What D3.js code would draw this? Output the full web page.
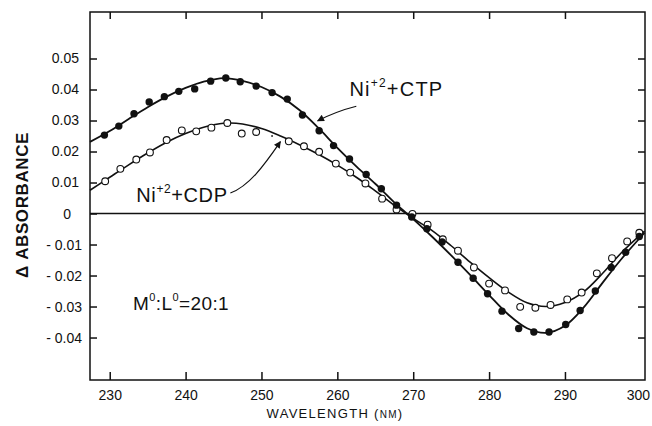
<!DOCTYPE html>
<html>
<head>
<meta charset="utf-8">
<script src="https://cdn.jsdelivr.net/npm/d3@7"></script>
<style>
  body { margin: 0; background: #fff; }
  text { font-family: "Liberation Sans", Arial, sans-serif; fill: #111; }
</style>
</head>
<body>
<div id="chart"></div>
<script>
// measured points, Ni+2 + CTP (filled circles)
const ctpWavelength = [229.3, 231.2, 233.2, 235.2, 237.2, 239.1, 241.2, 243.3, 245.3, 247.2, 249.3, 251.4, 253.4, 255.4, 257.6, 259.5, 261.6, 263.8, 265.8, 267.8, 269.8, 271.8, 273.8, 275.9, 277.9, 279.8, 281.7, 283.9, 285.9, 287.9, 290.1, 292.0, 294.0, 296.1, 298.0, 299.8];
const ctpAbs = [0.0253, 0.0282, 0.0322, 0.0360, 0.0377, 0.0394, 0.0402, 0.0427, 0.0437, 0.0425, 0.0411, 0.0390, 0.0369, 0.0318, 0.0267, 0.0219, 0.0176, 0.0126, 0.0080, 0.0027, -0.0011, -0.0049, -0.0092, -0.0157, -0.0209, -0.0259, -0.0315, -0.0371, -0.0382, -0.0382, -0.0358, -0.0313, -0.0250, -0.0174, -0.0125, -0.0074];

// measured points, Ni+2 + CDP (open circles)
const cdpWavelength = [229.4, 231.4, 233.5, 235.3, 237.5, 239.5, 241.4, 243.4, 245.5, 247.4, 249.3, 253.6, 255.6, 257.6, 259.8, 261.7, 263.7, 265.9, 267.8, 269.9, 271.9, 273.9, 275.9, 278.0, 280.0, 282.1, 284.1, 286.1, 288.1, 290.3, 292.2, 294.2, 296.2, 298.2, 299.8];
const cdpAbs = [0.0104, 0.0144, 0.0174, 0.0197, 0.0237, 0.0268, 0.0265, 0.0277, 0.0292, 0.0258, 0.0263, 0.0233, 0.0217, 0.0199, 0.0161, 0.0132, 0.0097, 0.0048, 0.0013, -0.0001, -0.0036, -0.0083, -0.0120, -0.0174, -0.0226, -0.0248, -0.0301, -0.0304, -0.0295, -0.0277, -0.0255, -0.0193, -0.0144, -0.0090, -0.0062];
// barely printed CDP point
const cdpFaintWavelength = [251.4];
const cdpFaintAbs = [0.0250];

// fitted curves
const fitWavelength = [227.4, 230, 232.5, 235, 237.5, 240, 242.5, 245, 247.5, 250, 252.5, 255, 257.5, 260, 262.5, 265, 267.5, 270, 272.5, 275, 277.5, 280, 282.5, 285, 287.5, 290, 292.5, 295, 297.5, 300.5];
const ctpFit = [0.0231, 0.0266, 0.0305, 0.0343, 0.0377, 0.0405, 0.0426, 0.0437, 0.0428, 0.0408, 0.0377, 0.0334, 0.0276, 0.0212, 0.0152, 0.0096, 0.0036, -0.0018, -0.0075, -0.0135, -0.0198, -0.0263, -0.0325, -0.0370, -0.0385, -0.0362, -0.0302, -0.0222, -0.0145, -0.0062];
const cdpFit = [0.0075, 0.0117, 0.0157, 0.0195, 0.0230, 0.0258, 0.0279, 0.0291, 0.0289, 0.0274, 0.0250, 0.0222, 0.0191, 0.0156, 0.0117, 0.0073, 0.0027, -0.0016, -0.0055, -0.0104, -0.0157, -0.0207, -0.0253, -0.0288, -0.0300, -0.0287, -0.0252, -0.0192, -0.0125, -0.0057];

const xTicks = [230, 240, 250, 260, 270, 280, 290, 300];
const yTicks = [0.05, 0.04, 0.03, 0.02, 0.01, 0, -0.01, -0.02, -0.03, -0.04];

const width = 652, height = 426;
const margin = { left: 90, right: 645, top: 12, bottom: 380 };

const svg = d3.select("#chart").append("svg")
    .attr("width", width)
    .attr("height", height);

svg.append("rect").attr("width", width).attr("height", height).attr("fill", "#fff");

const x = d3.scaleLinear().domain([227.4, 300.55]).range([margin.left, margin.right]);
const y = d3.scaleLinear().domain([-0.0537, 0.065]).range([margin.bottom, margin.top]);

// frame
svg.append("rect")
    .attr("x", margin.left).attr("y", margin.top)
    .attr("width", margin.right - margin.left).attr("height", margin.bottom - margin.top)
    .attr("fill", "none").attr("stroke", "#111").attr("stroke-width", 1.5);

// zero line
svg.append("line")
    .attr("x1", margin.left).attr("x2", margin.right)
    .attr("y1", y(0)).attr("y2", y(0))
    .attr("stroke", "#111").attr("stroke-width", 1.5);

// bottom axis, inward ticks
const xAxis = svg.append("g")
    .attr("transform", `translate(0,${margin.bottom})`)
    .call(d3.axisBottom(x).tickValues(xTicks).tickSize(-8).tickPadding(10).tickFormat(d3.format("d")));
xAxis.select(".domain").remove();
xAxis.selectAll(".tick").filter(d => d === 300).select("line").remove();
xAxis.selectAll(".tick").filter(d => d === 300).select("text").attr("x", -3);
xAxis.selectAll("text").attr("font-size", 14).attr("fill", "#111");
xAxis.selectAll("line").attr("stroke", "#111").attr("stroke-width", 1.5);

// top axis ticks only
const xTop = svg.append("g")
    .attr("transform", `translate(0,${margin.top})`)
    .call(d3.axisTop(x).tickValues(xTicks.slice(0, -1)).tickSize(-7).tickFormat(""));
xTop.select(".domain").remove();
xTop.selectAll("line").attr("stroke", "#111").attr("stroke-width", 1.5);

// left axis
const fmtY = d => d === 0 ? "0" : (d < 0 ? "- " + d3.format(".2f")(-d) : d3.format(".2f")(d));
const yAxis = svg.append("g")
    .attr("transform", `translate(${margin.left},0)`)
    .call(d3.axisLeft(y).tickValues(yTicks).tickSize(-7).tickPadding(11).tickFormat(fmtY));
yAxis.select(".domain").remove();
yAxis.selectAll("text").attr("font-size", 14).attr("fill", "#111");
yAxis.selectAll(".tick").filter(d => d < 0).select("text").attr("x", -8);
yAxis.selectAll(".tick").filter(d => d === 0).select("text").attr("x", -19);
yAxis.selectAll("line").attr("stroke", "#111").attr("stroke-width", 1.5);

// right axis ticks only
const yRight = svg.append("g")
    .attr("transform", `translate(${margin.right},0)`)
    .call(d3.axisRight(y).tickValues(yTicks.filter(d => d !== 0)).tickSize(-7).tickFormat(""));
yRight.select(".domain").remove();
yRight.selectAll("line").attr("stroke", "#111").attr("stroke-width", 1.5);

// axis titles
svg.append("text")
    .attr("transform", "translate(28,205) rotate(-90)")
    .attr("text-anchor", "middle")
    .attr("font-size", 17)
    .attr("font-weight", "bold")
    .attr("letter-spacing", 0.6)
    .text("\u0394 ABSORBANCE");

const xTitle = svg.append("text")
    .attr("x", 335).attr("y", 418)
    .attr("text-anchor", "middle")
    .attr("font-size", 13)
    .attr("letter-spacing", 1.3);
xTitle.append("tspan").text("WAVELENGTH (");
xTitle.append("tspan").attr("font-size", 10).text("NM");
xTitle.append("tspan").text(")");

// fitted curves
const fitLine = vals => d3.line()
    .x((d, i) => x(fitWavelength[i]))
    .y(d => y(d))
    .curve(d3.curveCatmullRom)(vals);

const plot = svg.append("g");
plot.append("path").attr("d", fitLine(ctpFit))
    .attr("fill", "none").attr("stroke", "#111").attr("stroke-width", 1.8);
plot.append("path").attr("d", fitLine(cdpFit))
    .attr("fill", "none").attr("stroke", "#111").attr("stroke-width", 1.6);

// points
plot.selectAll("circle.cdp")
    .data(cdpWavelength)
    .enter().append("circle")
    .attr("class", "cdp")
    .attr("cx", d => x(d))
    .attr("cy", (d, i) => y(cdpAbs[i]))
    .attr("r", 3.4)
    .attr("fill", "#fff").attr("stroke", "#111").attr("stroke-width", 1.1);

plot.selectAll("circle.faint")
    .data(cdpFaintWavelength)
    .enter().append("circle")
    .attr("class", "faint")
    .attr("cx", d => x(d))
    .attr("cy", (d, i) => y(cdpFaintAbs[i]))
    .attr("r", 1)
    .attr("fill", "#333");

plot.selectAll("circle.ctp")
    .data(ctpWavelength)
    .enter().append("circle")
    .attr("class", "ctp")
    .attr("cx", d => x(d))
    .attr("cy", (d, i) => y(ctpAbs[i]))
    .attr("r", 3.7)
    .attr("fill", "#111");

// annotations
svg.append("defs").append("marker")
    .attr("id", "arrow")
    .attr("viewBox", "0 0 10 10")
    .attr("refX", 9).attr("refY", 5)
    .attr("markerWidth", 9).attr("markerHeight", 7)
    .attr("markerUnits", "userSpaceOnUse")
    .attr("orient", "auto")
    .append("path").attr("d", "M0,0 L10,5 L0,10 Z").attr("fill", "#111");

function label(nm, val, name, spacing) {
    const t = svg.append("text")
        .attr("x", x(nm)).attr("y", y(val))
        .attr("font-size", 20)
        .attr("letter-spacing", spacing);
    t.append("tspan").text("Ni");
    t.append("tspan").attr("font-size", 12).attr("dy", -9).text("+2");
    t.append("tspan").attr("dy", 9).text("+" + name);
}
label(261.6, 0.0378, "CTP", 1.2);
label(233.5, 0.0037, "CDP", 0.6);

// arrow Ni+2+CTP -> curve
const a1 = [[262.5, 0.0346], [259.9, 0.0330], [257.4, 0.0299]];
svg.append("path")
    .attr("d", `M${x(a1[0][0])},${y(a1[0][1])} Q${x(a1[1][0])},${y(a1[1][1])} ${x(a1[2][0])},${y(a1[2][1])}`)
    .attr("fill", "none").attr("stroke", "#111").attr("stroke-width", 1.2)
    .attr("marker-end", "url(#arrow)");

// arrow Ni+2+CDP -> curve
const a2 = [[245.9, 0.0066], [248.3, 0.0088], [250.2, 0.0150], [252.5, 0.0232]];
svg.append("path")
    .attr("d", `M${x(a2[0][0])},${y(a2[0][1])} C${x(a2[1][0])},${y(a2[1][1])} ${x(a2[2][0])},${y(a2[2][1])} ${x(a2[3][0])},${y(a2[3][1])}`)
    .attr("fill", "none").attr("stroke", "#111").attr("stroke-width", 1.2)
    .attr("marker-end", "url(#arrow)");

// ratio note
const note = svg.append("text")
    .attr("x", 133).attr("y", 310)
    .attr("font-size", 19)
    .attr("letter-spacing", 0.4);
note.append("tspan").text("M");
note.append("tspan").attr("font-size", 11).attr("dy", -9).text("0");
note.append("tspan").attr("dy", 9).text(":L");
note.append("tspan").attr("font-size", 11).attr("dy", -9).text("0");
note.append("tspan").attr("dy", 9).text("=20:1");
</script>
</body>
</html>
